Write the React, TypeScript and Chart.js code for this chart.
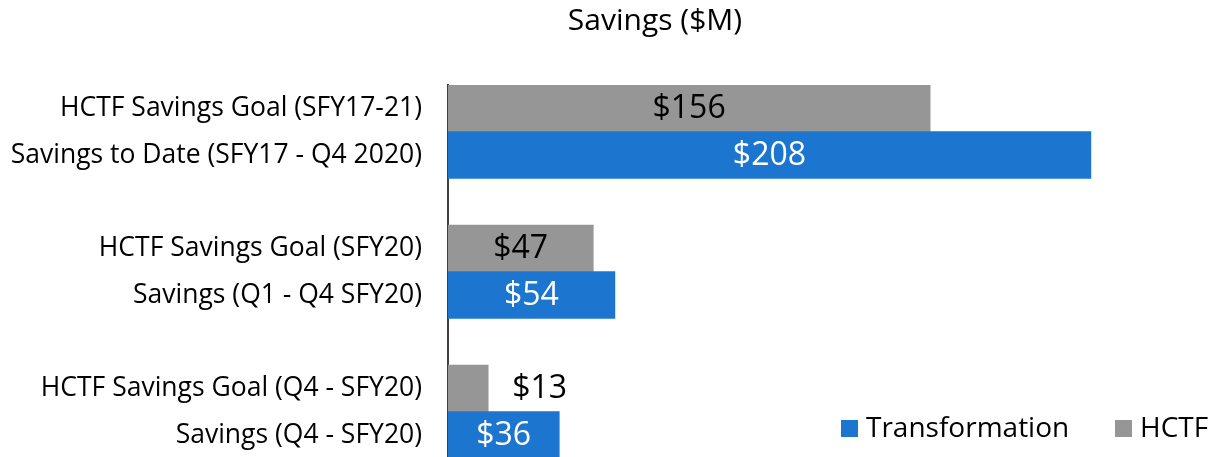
import React, { useEffect, useRef } from "react";
import { Chart, registerables } from "chart.js";

Chart.register(...registerables);

const categories = [
  "HCTF Savings Goal (SFY17-21)",
  "Savings to Date (SFY17 - Q4 2020)",
  "",
  "HCTF Savings Goal (SFY20)",
  "Savings (Q1 - Q4 SFY20)",
  "",
  "HCTF Savings Goal (Q4 - SFY20)",
  "Savings (Q4 - SFY20)",
];
const transformation = [null, 208, null, null, 54, null, null, 36];
const hctf = [156, null, null, 47, null, null, 13, null];
const titleText = "Savings ($M)";

const BLUE = "#1C76CF";
const GRAY = "#969696";
const FONT = "'Open Sans'";

export default function App() {
  const ref = useRef<HTMLCanvasElement>(null);

  useEffect(() => {
    document.body.style.margin = "0";
    const ctx = ref.current!.getContext("2d")!;

    const titlePlugin = {
      id: "customTitle",
      afterDraw(chart: any) {
        const c = chart.ctx;
        c.save();
        c.font = `30px ${FONT}`;
        c.fillStyle = "#000";
        c.textAlign = "center";
        c.textBaseline = "middle";
        c.fillText(titleText, 655, 21);
        c.restore();
      },
    };

    const legendPlugin = {
      id: "customLegend",
      afterDraw(chart: any) {
        const c = chart.ctx;
        c.save();
        c.font = `28px ${FONT}`;
        c.textBaseline = "middle";
        c.textAlign = "left";
        const items = chart.data.datasets.map((d: any) => ({
          label: d.label,
          color: d.backgroundColor,
        }));
        const xs = [841, 1115];
        items.forEach((it: any, i: number) => {
          c.fillStyle = it.color;
          c.fillRect(xs[i], 420, 17, 17);
          c.fillStyle = "#000";
          c.fillText(it.label, xs[i] + 25, 429);
        });
        c.restore();
      },
    };

    const labelPlugin = {
      id: "valueLabels",
      afterDatasetsDraw(chart: any) {
        const c = chart.ctx;
        c.save();
        c.font = `32px ${FONT}`;
        c.textBaseline = "middle";
        chart.data.datasets.forEach((ds: any, di: number) => {
          const meta = chart.getDatasetMeta(di);
          meta.data.forEach((el: any, i: number) => {
            const v = ds.data[i];
            if (v === null || v === undefined) return;
            const text = "$" + v;
            const w = c.measureText(text).width;
            const barW = el.x - el.base;
            if (barW > w + 10) {
              c.textAlign = "center";
              c.fillStyle = ds.labelColor;
              c.fillText(text, (el.x + el.base) / 2, el.y + 1);
            } else {
              c.textAlign = "left";
              c.fillStyle = "#000";
              c.fillText(text, el.x + 24, el.y + 1);
            }
          });
        });
        c.restore();
      },
    };

    const chart = new Chart(ctx, {
      type: "bar",
      data: {
        labels: categories,
        datasets: [
          {
            label: "Transformation",
            data: transformation,
            backgroundColor: BLUE,
            labelColor: "#fff",
            categoryPercentage: 1,
            barPercentage: 1,
          } as any,
          {
            label: "HCTF",
            data: hctf,
            backgroundColor: GRAY,
            labelColor: "#000",
            categoryPercentage: 1,
            barPercentage: 1,
          } as any,
        ],
      },
      options: {
        indexAxis: "y",
        animation: false,
        responsive: false,
        maintainAspectRatio: false,
        layout: { padding: { top: 85, right: 10, bottom: 1.7, left: 0 } },
        plugins: {
          legend: { display: false },
          title: { display: false },
          tooltip: { enabled: false },
        },
        scales: {
          x: {
            display: false,
            stacked: true,
            min: 0,
            max: 243.3,
          },
          y: {
            stacked: true,
            grid: { display: false, drawTicks: false },
            border: { display: true, color: "#404040", width: 2 },
            ticks: {
              color: "#000",
              font: { family: FONT, size: 26.5 },
              padding: 26,
              autoSkip: false,
            },
            afterFit(scale: any) {
              scale.width = 448;
              scale.paddingTop = 0;
              scale.paddingBottom = 0;
            },
          },
        },
      },
      plugins: [labelPlugin, titlePlugin, legendPlugin],
    });

    return () => chart.destroy();
  }, []);

  return (
    <div
      style={{
        position: "absolute",
        left: 0,
        top: 0,
        width: 1210,
        height: 457,
        overflow: "hidden",
        background: "#fff",
      }}
    >
      <canvas ref={ref} width={1210} height={460} style={{ display: "block" }} />
    </div>
  );
}
